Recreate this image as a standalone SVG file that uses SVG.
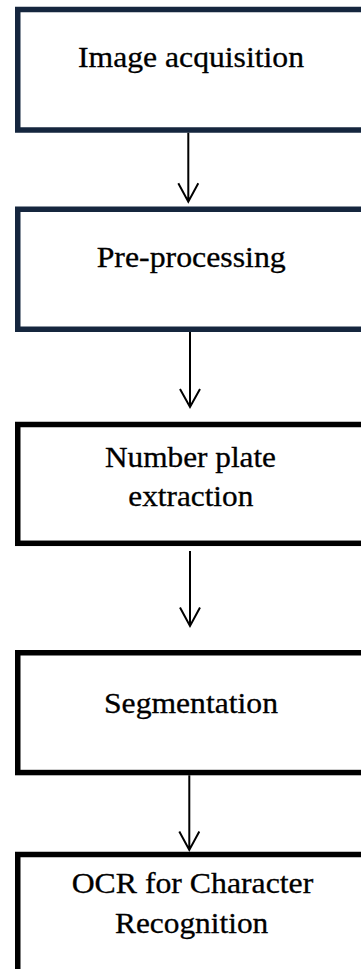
<svg xmlns="http://www.w3.org/2000/svg" width="361" height="969" viewBox="0 0 361 969">
<defs>
<style>
.box{fill:#fff;stroke-width:5.5}
.navy{stroke:#15263e}
.blk{stroke:#000}
.t{font-family:'Times New Roman','Liberation Serif',Tinos,serif;font-size:29px;fill:#000;stroke:#000;stroke-width:0.3}
.c{stroke:#000;stroke-width:2;fill:none}
</style>
</defs>
<rect width="361" height="969" fill="#fff"/>
<g id="node-image-acquisition">
<rect class="box navy" x="17.75" y="9.5" width="346.5" height="120.5"/>
<text class="t" x="78" y="66.7" textLength="226" lengthAdjust="spacingAndGlyphs">Image acquisition</text>
</g>
<g id="node-pre-processing">
<rect class="box navy" x="17.75" y="209.25" width="346.5" height="120"/>
<text class="t" x="96.7" y="266.7" textLength="189" lengthAdjust="spacingAndGlyphs">Pre-processing</text>
</g>
<g id="node-number-plate-extraction">
<rect class="box blk" x="17.75" y="424.5" width="346.5" height="118.8"/>
<text class="t" x="105" y="466.7" textLength="171" lengthAdjust="spacingAndGlyphs">Number plate</text>
<text class="t" x="128.3" y="506" textLength="125" lengthAdjust="spacingAndGlyphs">extraction</text>
</g>
<g id="node-segmentation">
<rect class="box blk" x="17.75" y="652.75" width="346.5" height="119.8"/>
<text class="t" x="104" y="712.7" textLength="174" lengthAdjust="spacingAndGlyphs">Segmentation</text>
</g>
<g id="node-ocr">
<rect class="box blk" x="17.75" y="854.5" width="346.5" height="130"/>
<text class="t" x="71.7" y="892.7" textLength="241.6" lengthAdjust="spacingAndGlyphs">OCR for Character</text>
<text class="t" x="115" y="933.3" textLength="153.3" lengthAdjust="spacingAndGlyphs">Recognition</text>
</g>
<g id="connectors">
<path class="c" d="M188.3 132.7V201.7M178.3 183.3L188.3 201.7L198.3 183.3"/>
<path class="c" d="M190 332V407M180 389L190 407L200 389"/>
<path class="c" d="M190 551V626M180 607.5L190 626L200 607.5"/>
<path class="c" d="M189.3 775.3V850M179.3 831.5L189.3 850L199.3 831.5"/>
</g>
</svg>
